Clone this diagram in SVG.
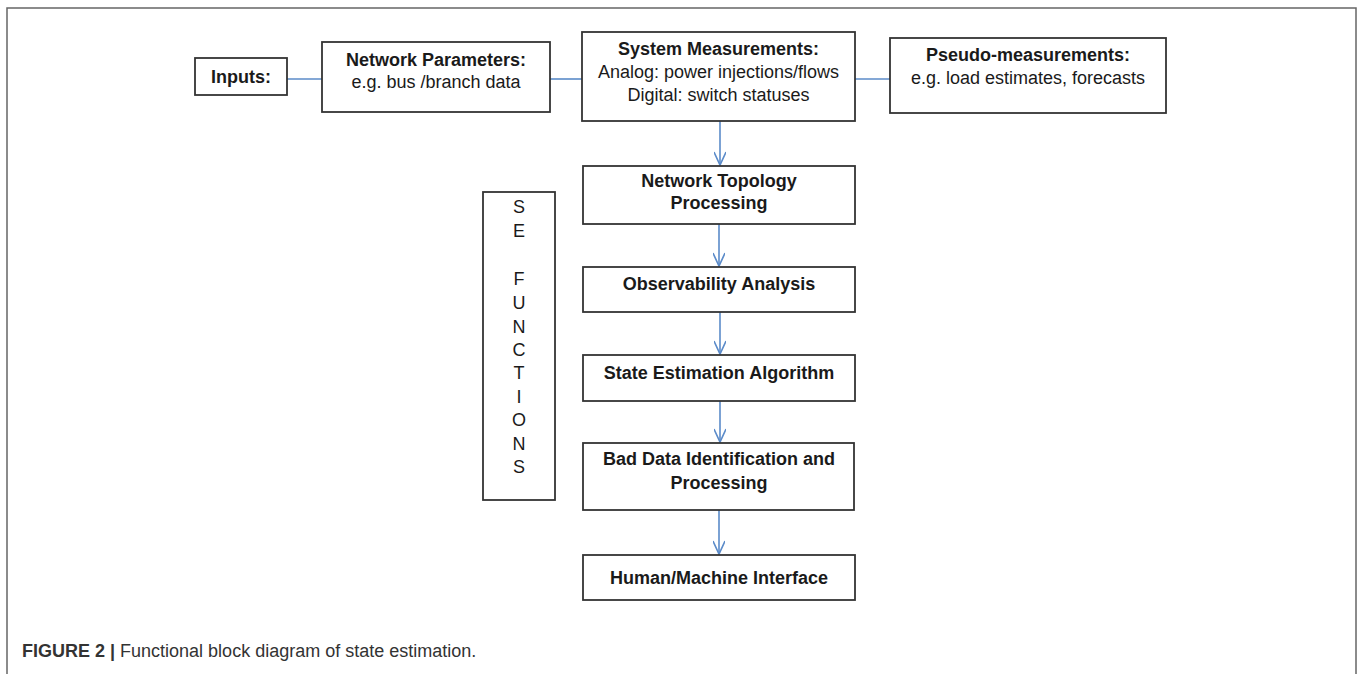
<svg xmlns="http://www.w3.org/2000/svg" width="1358" height="674" viewBox="0 0 1358 674">
<style>
.box{fill:#fff;stroke:#333;stroke-width:1.8}
.t{font-family:"Liberation Sans",Arial,sans-serif;font-size:18px;fill:#1a1a1a;text-anchor:middle}
.b{font-weight:bold}
.c{fill:none;stroke:#5b8bc9;stroke-width:1.6}
.cap{font-family:"Liberation Sans",Arial,sans-serif;font-size:18px;fill:#333}
</style>
<defs>
<marker id="arr" markerWidth="16" markerHeight="12" refX="14" refY="6" orient="auto" markerUnits="userSpaceOnUse">
<path d="M1,0 L14,6 L1,12" fill="none" stroke="#5b8bc9" stroke-width="1.6"/>
</marker>
</defs>
<rect width="1358" height="674" fill="#fff"/>
<path d="M7,674 V8 H1356 V674" fill="none" stroke="#666" stroke-width="1.5"/>
<g id="connectors">
<line class="c" x1="287" y1="79" x2="322" y2="79"/>
<line class="c" x1="550" y1="79" x2="582" y2="79"/>
<line class="c" x1="855" y1="79" x2="890" y2="79"/>
<line class="c" x1="720" y1="121" x2="720" y2="165" marker-end="url(#arr)"/>
<line class="c" x1="719" y1="224" x2="719" y2="266" marker-end="url(#arr)"/>
<line class="c" x1="720" y1="312" x2="720" y2="354" marker-end="url(#arr)"/>
<line class="c" x1="720" y1="401" x2="720" y2="442" marker-end="url(#arr)"/>
<line class="c" x1="719" y1="510" x2="719" y2="554" marker-end="url(#arr)"/>
</g>
<g id="inputs">
<rect class="box" x="195" y="58" width="92" height="37"/>
<text class="t b" x="241" y="83">Inputs:</text>
</g>
<g id="network-parameters">
<rect class="box" x="322" y="42" width="228" height="70"/>
<text class="t b" x="436" y="66">Network Parameters:</text>
<text class="t" x="436" y="88">e.g. bus /branch data</text>
</g>
<g id="system-measurements">
<rect class="box" x="582" y="32" width="273" height="89"/>
<text class="t b" x="718.5" y="55">System Measurements:</text>
<text class="t" x="718.5" y="78">Analog: power injections/flows</text>
<text class="t" x="718.5" y="101">Digital: switch statuses</text>
</g>
<g id="pseudo-measurements">
<rect class="box" x="890" y="38" width="276" height="75"/>
<text class="t b" x="1028" y="61">Pseudo-measurements:</text>
<text class="t" x="1028" y="84">e.g. load estimates, forecasts</text>
</g>
<g id="se-functions">
<rect class="box" x="483" y="192" width="72" height="308"/>
<text class="t" x="519" y="213">S</text>
<text class="t" x="519" y="237">E</text>
<text class="t" x="519" y="285">F</text>
<text class="t" x="519" y="309">U</text>
<text class="t" x="519" y="333">N</text>
<text class="t" x="519" y="356">C</text>
<text class="t" x="519" y="379">T</text>
<text class="t" x="519" y="403">I</text>
<text class="t" x="519" y="426">O</text>
<text class="t" x="519" y="450">N</text>
<text class="t" x="519" y="473">S</text>
</g>
<g id="network-topology">
<rect class="box" x="583" y="166" width="272" height="58"/>
<text class="t b" x="719" y="187">Network Topology</text>
<text class="t b" x="719" y="209">Processing</text>
</g>
<g id="observability">
<rect class="box" x="583" y="267" width="272" height="45"/>
<text class="t b" x="719" y="290">Observability Analysis</text>
</g>
<g id="state-estimation">
<rect class="box" x="583" y="355" width="272" height="46"/>
<text class="t b" x="719" y="379">State Estimation Algorithm</text>
</g>
<g id="bad-data">
<rect class="box" x="583" y="443" width="271" height="67"/>
<text class="t b" x="719" y="465">Bad Data Identification and</text>
<text class="t b" x="719" y="489">Processing</text>
</g>
<g id="hmi">
<rect class="box" x="583" y="555" width="272" height="45"/>
<text class="t b" x="719" y="584">Human/Machine Interface</text>
</g>
<text class="cap" x="22" y="657"><tspan font-weight="bold">FIGURE 2 |</tspan> Functional block diagram of state estimation.</text>
</svg>
